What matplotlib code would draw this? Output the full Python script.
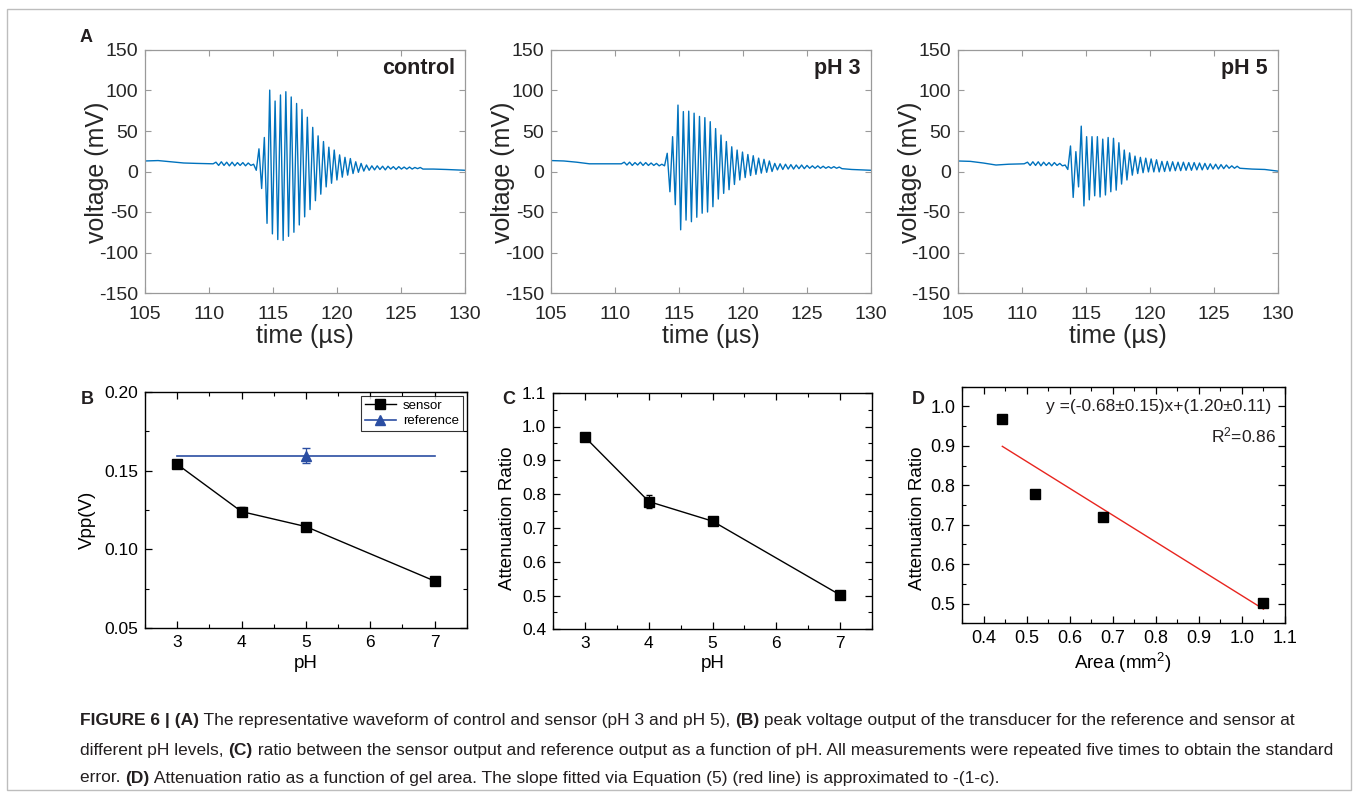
import numpy as np
import matplotlib
matplotlib.use('Agg')
import matplotlib.pyplot as plt
from matplotlib.ticker import MultipleLocator, FormatStrFormatter
from matplotlib.patches import Rectangle
from matplotlib.lines import Line2D

plt.rcParams['font.family'] = ['Liberation Sans', 'DejaVu Sans']
plt.rcParams['axes.unicode_minus'] = False
plt.rcParams['mathtext.fontset'] = 'custom'
plt.rcParams['mathtext.rm'] = 'Liberation Sans'
plt.rcParams['mathtext.it'] = 'Liberation Sans:italic'
plt.rcParams['mathtext.bf'] = 'Liberation Sans:bold'

W, H = 1358, 798

# ---------- A: waveforms, mV (crest/trough values read per half cycle) ----------
half = 0.21  # µs between neighbouring crest and trough

ctl_pre_t = [105, 106, 107, 108, 109, 110.3]
ctl_pre_v = [13, 13.5, 12, 10.5, 10, 9.5]
ctl_t0 = 110.52
ctl_osc = [11.5, 7.5, 12, 7.5, 11.5, 7, 11.5, 7, 11, 7.5, 11, 7, 10.5, 7.5, 9, 1.5,
           28, -21, 42, -64, 100.5, -77, 87, -84, 94.5, -85, 98.5, -80, 92, -75,
           84, -66, 76.5, -56, 67, -47, 54.5, -36, 44, -28, 37, -19, 30, -14.5,
           26.5, -10.5, 20.5, -7, 17.5, -4.5, 16, -2.5, 12, -1, 10, 0.5, 8, 1.5,
           7, 2, 7, 2.5, 6.5, 2, 6.5, 3, 6, 2.5, 6, 3, 5.5, 3, 5.5, 3, 5, 3.5, 5, 3]
ctl_post_t = [127.5, 128.5, 130]
ctl_post_v = [3, 2.5, 1.5]

ph3_pre_t = [105, 106, 107, 108, 109, 110.5]
ph3_pre_v = [13.5, 13, 11.5, 9.5, 9.5, 9.5]
ph3_t0 = 110.72
ph3_osc = [11.5, 8, 11.5, 7.5, 11, 8, 11.5, 7.5, 11, 7.5, 10.5, 7.5, 10, 7, 9, 7,
           22.5, -25, 43, -41, 82, -72, 74, -60, 74.5, -62, 72, -56.5, 68, -51.5,
           66.5, -50, 61.5, -43.5, 53, -34, 45, -27, 37, -22.5, 30.5, -16, 26.5,
           -10.5, 24, -7.5, 21, -5, 19.5, -3.5, 16.5, -2, 15, -1, 13, 0,
           10, 2, 9.5, 2.5, 9, 3, 8.5, 3, 8, 3.5, 8, 3.5, 7.5, 4, 7, 4, 7, 4,
           6.5, 4, 6, 4, 6, 4, 5.5, 3.5]
ph3_post_t = [128.5, 130]
ph3_post_v = [2.5, 1.5]

ph5_pre_t = [105, 106, 107, 108, 109, 110.2]
ph5_pre_v = [13, 12.5, 10.5, 8, 9, 9.5]
ph5_t0 = 110.46
ph5_osc = [11.5, 7.5, 12, 7.5, 12, 7, 11.5, 7.5, 11, 7, 11, 7.5, 10, 7, 8, 2.5,
           31.5, -32, 24.5, -19, 56, -42.5, 43, -35, 43, -30, 43, -31.5, 40, -29,
           42, -25, 41, -23, 35.5, -15.5, 26.5, -10.5, 23, -4.5, 19, -2.5, 17.5,
           -1.5, 16.5, -0.5, 15.5, -0.5, 14.5, -0.5, 12.5, 0, 12.5, 0.5,
           12, 1, 11.5, 1, 11.5, 1.5, 11, 1.5, 11, 2, 10.5, 2, 10, 2.5, 9.5, 3,
           9, 3, 8.5, 3.5, 8, 4, 7, 4, 6.5, 4]
ph5_post_t = [128, 129, 130]
ph5_post_v = [3, 2.5, 0.5]

wave_labels = ['control', 'pH 3', 'pH 5']

# ---------- B / C / D ----------
ph = [3, 4, 5, 7]
vpp_sensor = [0.154, 0.124, 0.1145, 0.080]
vpp_sensor_err = [0.001, 0.003, 0.001, 0.001]
ref_ph = [3, 5, 7]
ref_vpp = [0.1595, 0.1595, 0.1595]
ref_err = [0, 0.0045, 0]

ratio = [0.968, 0.778, 0.720, 0.502]
ratio_err = [0.004, 0.02, 0.005, 0.004]

area = [0.443, 0.519, 0.677, 1.050]
fit_slope, fit_icpt = -0.68, 1.20

ref_blue = '#2b4ea2'


def trace(pre_t, pre_v, t0, osc, post_t, post_v):
    t_osc = t0 + half * np.arange(len(osc))
    t = np.concatenate([pre_t, t_osc, post_t])
    v = np.concatenate([pre_v, osc, post_v])
    return t, v


def px_axes(l, r, top, bot):
    return fig.add_axes([l / W, 1 - bot / H, (r - l) / W, (bot - top) / H])


fig = plt.figure(figsize=(W / 100, H / 100), dpi=100)

# ---------- panel A ----------
waves = [
    trace(ctl_pre_t, ctl_pre_v, ctl_t0, ctl_osc, ctl_post_t, ctl_post_v),
    trace(ph3_pre_t, ph3_pre_v, ph3_t0, ph3_osc, ph3_post_t, ph3_post_v),
    trace(ph5_pre_t, ph5_pre_v, ph5_t0, ph5_osc, ph5_post_t, ph5_post_v),
]
lefts = [145.3, 551, 957.6]
gray = '#262626'
for (t, v), lbl, l in zip(waves, wave_labels, lefts):
    ax = px_axes(l, l + 320, 50, 293)
    ax.plot(t, v, color='#0072BD', lw=1.0)
    ax.set_xlim(105, 130)
    ax.set_ylim(-150, 150)
    ax.xaxis.set_major_locator(MultipleLocator(5))
    ax.yaxis.set_major_locator(MultipleLocator(50))
    for s in ax.spines.values():
        s.set_color('#9a9a9a')
        s.set_linewidth(0.9)
    ax.tick_params(direction='in', top=True, right=True, length=4, width=0.8,
                   color='#9a9a9a', labelcolor=gray, labelsize=14)
    ax.tick_params(axis='x', pad=9)
    ax.tick_params(axis='y', pad=5)
    ax.text(0.968, 0.925, lbl, transform=ax.transAxes, ha='right', va='center',
            fontsize=15.5, fontweight='bold', color='#231f20')
    fig.text((l + 160) / W, 1 - 336 / H, 'time (µs)', ha='center', va='center',
             fontsize=18, color=gray)
    fig.text((l - 48) / W, 1 - 172 / H, 'voltage (mV)', ha='center', va='center',
             rotation=90, fontsize=18, color=gray)


def origin_style(ax, size):
    for s in ax.spines.values():
        s.set_color('black')
        s.set_linewidth(1.0)
    ax.tick_params(which='both', direction='in', top=True, right=True,
                   labelsize=size, colors='black', pad=5)
    ax.tick_params(which='major', length=5, width=0.9)
    ax.tick_params(which='minor', length=3, width=0.8)


# ---------- panel B ----------
axB = px_axes(145, 466.7, 391.7, 628.3)
axB.errorbar(ph, vpp_sensor, yerr=vpp_sensor_err, color='black', marker='s',
             ms=7, lw=1.0, capsize=2.5, elinewidth=0.8)
axB.errorbar(ref_ph, ref_vpp, yerr=ref_err, color=ref_blue, marker='^', ms=7,
             lw=1.2, capsize=3, elinewidth=0.9, markevery=[1], errorevery=[1])
axB.set_xlim(2.5, 7.5)
axB.set_ylim(0.05, 0.20)
axB.xaxis.set_major_locator(MultipleLocator(1))
axB.xaxis.set_minor_locator(MultipleLocator(0.5))
axB.yaxis.set_major_locator(MultipleLocator(0.05))
axB.yaxis.set_minor_locator(MultipleLocator(0.025))
axB.yaxis.set_major_formatter(FormatStrFormatter('%.2f'))
origin_style(axB, 12.5)
handles = [Line2D([], [], color='black', marker='s', ms=7, lw=1.0),
           Line2D([], [], color=ref_blue, marker='^', ms=7, lw=1.2)]
leg = axB.legend(handles, ['sensor', 'reference'], loc='upper right',
                 fontsize=9.5, frameon=True, fancybox=False, borderaxespad=0.3,
                 handlelength=2.4, borderpad=0.3, labelspacing=0.25,
                 handletextpad=0.5)
leg.get_frame().set_edgecolor('black')
leg.get_frame().set_linewidth(0.8)
fig.text(87.5 / W, 1 - 520 / H, 'Vpp(V)', rotation=90, ha='center', va='center',
         fontsize=13.5)
fig.text(306 / W, 1 - 664 / H, 'pH', ha='center', va='center', fontsize=13.5)

# ---------- panel C ----------
axC = px_axes(553.3, 871.7, 392.7, 629.3)
axC.errorbar(ph, ratio, yerr=ratio_err, color='black', marker='s', ms=7, lw=1.0,
             capsize=2.5, elinewidth=0.8)
axC.set_xlim(2.5, 7.5)
axC.set_ylim(0.4, 1.1)
axC.xaxis.set_major_locator(MultipleLocator(1))
axC.xaxis.set_minor_locator(MultipleLocator(0.5))
axC.yaxis.set_major_locator(MultipleLocator(0.1))
axC.yaxis.set_minor_locator(MultipleLocator(0.05))
axC.yaxis.set_major_formatter(FormatStrFormatter('%.1f'))
origin_style(axC, 12.5)
fig.text(508 / W, 1 - 518 / H, 'Attenuation Ratio', rotation=90, ha='center',
         va='center', fontsize=13.5)
fig.text(712.5 / W, 1 - 664 / H, 'pH', ha='center', va='center', fontsize=13.5)

# ---------- panel D ----------
axD = px_axes(962.3, 1285, 386.7, 623.3)
xf = np.array([min(area), max(area)])
axD.plot(xf, fit_slope * xf + fit_icpt, color='#e8251f', lw=1.0)
axD.plot(area, ratio, 's', color='black', ms=6.5)
axD.set_xlim(0.35, 1.1)
axD.set_ylim(0.45, 1.05)
axD.xaxis.set_major_locator(MultipleLocator(0.1))
axD.xaxis.set_minor_locator(MultipleLocator(0.05))
axD.yaxis.set_major_locator(MultipleLocator(0.1))
axD.yaxis.set_minor_locator(MultipleLocator(0.05))
axD.xaxis.set_major_formatter(FormatStrFormatter('%.1f'))
axD.yaxis.set_major_formatter(FormatStrFormatter('%.1f'))
origin_style(axD, 13)
axD.text(0.957, 0.915, 'y =(-0.68±0.15)x+(1.20±0.11)', transform=axD.transAxes,
         ha='right', va='center', fontsize=12.5, color='#231f20')
axD.text(0.972, 0.796, 'R$^\\mathregular{2}$=0.86', transform=axD.transAxes,
         ha='right', va='center', fontsize=12.5, color='#231f20')
fig.text(917 / W, 1 - 518 / H, 'Attenuation Ratio', rotation=90, ha='center',
         va='center', fontsize=13.5)
fig.text(1123 / W, 1 - 663 / H, 'Area (mm$^\\mathregular{2}$)', ha='center',
         va='center', fontsize=13.5)

# ---------- panel letters ----------
for letter, x, y in [('A', 86, 37), ('B', 87, 399), ('C', 509, 399), ('D', 918, 399)]:
    fig.text(x / W, 1 - y / H, letter, ha='center', va='center', fontsize=13,
             fontweight='bold', color='#231f20')

# ---------- caption ----------
renderer = fig.canvas.get_renderer()


def width_px(txt, bold, size):
    a = fig.text(0, 0, txt + 'x', fontsize=size, fontweight='bold' if bold else 'normal')
    b = fig.text(0, 0, 'x', fontsize=size, fontweight='bold' if bold else 'normal')
    w = a.get_window_extent(renderer).width - b.get_window_extent(renderer).width
    a.remove()
    b.remove()
    return w


def rich_line(y, pieces, size=12):
    x = 80
    for txt, bold in pieces:
        fig.text(x / W, 1 - y / H, txt, fontsize=size, ha='left', va='center',
                 fontweight='bold' if bold else 'normal', color='#231f20')
        x += width_px(txt, bold, size)


cap = [
    [('FIGURE 6 | (A)', True),
     (' The representative waveform of control and sensor (pH 3 and pH 5), ', False),
     ('(B)', True),
     (' peak voltage output of the transducer for the reference and sensor at', False)],
    [('different pH levels, ', False), ('(C)', True),
     (' ratio between the sensor output and reference output as a function of pH. '
      'All measurements were repeated five times to obtain the standard', False)],
    [('error. ', False), ('(D)', True),
     (' Attenuation ratio as a function of gel area. The slope fitted via Equation (5) '
      '(red line) is approximated to -(1-c).', False)],
]
for y, pieces in zip([721, 750, 778], cap):
    rich_line(y, pieces, size=12.5)

fig.add_artist(Rectangle((7 / W, 1 - 790 / H), (1351 - 7) / W, (790 - 9) / H,
                         transform=fig.transFigure, fill=False,
                         edgecolor='#bdbdbd', lw=1.0))

fig.savefig('out.png', dpi=100)
